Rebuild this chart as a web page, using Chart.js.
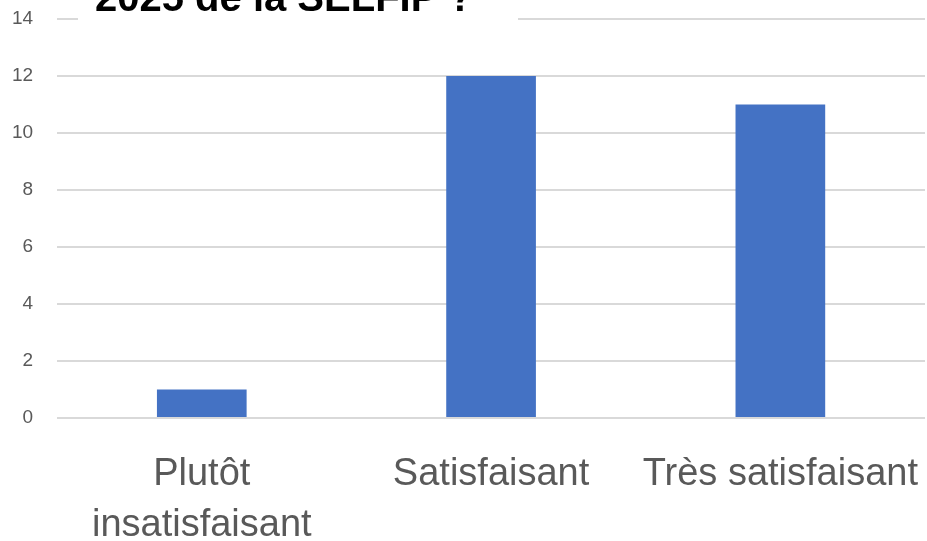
<!DOCTYPE html>
<html>
<head>
<meta charset="utf-8">
<script src="https://cdn.jsdelivr.net/npm/chart.js@4/dist/chart.umd.min.js"></script>
<style>
  html, body { margin:0; padding:0; background:#fff; }
  #wrap { width:927px; height:541px; position:relative; }
</style>
</head>
<body>
<div id="wrap"><canvas id="chart" width="927" height="541"></canvas></div>
<script>
var categories = [["Plutôt", "insatisfaisant"], "Satisfaisant", "Très satisfaisant"];
var counts = [1, 12, 11];
var yTicks = [0, 2, 4, 6, 8, 10, 12, 14];
var titleText = "2025 de la SELFIP ?";

var labelFont = "'Liberation Sans Narrow', 'Liberation Sans', Arial, sans-serif";

// title cut by the top edge, drawn over the top gridline
var cutTitle = {
    id: 'cutTitle',
    afterDraw: function(chart){
        var ctx = chart.ctx;
        ctx.save();
        ctx.fillStyle = "#fff";
        ctx.fillRect(78, 0, 440, 30);
        ctx.font = "bold 40px 'Liberation Sans', Arial, sans-serif";
        ctx.fillStyle = "#000";
        ctx.textBaseline = "alphabetic";
        ctx.fillText(titleText, 95, 11);
        ctx.restore();
    }
};

new Chart(document.getElementById("chart"), {
    type: 'bar',
    data: {
        labels: categories,
        datasets: [{
            data: counts,
            backgroundColor: "#4472c4",
            barPercentage: 0.31,
            categoryPercentage: 1
        }]
    },
    options: {
        responsive: false,
        animation: false,
        layout: { padding: { top: 19, right: 2, left: -12, bottom: 0 } },
        plugins: { legend: { display: false }, tooltip: { enabled: false } },
        scales: {
            x: {
                afterFit: function(axis){
                    axis.height = 123;
                    axis.paddingLeft = 0;
                    axis.paddingRight = 0;
                },
                grid: { display: false, drawTicks: false },
                border: { display: false },
                ticks: {
                    color: "#595959",
                    font: { family: labelFont, size: 38, lineHeight: 1.34 },
                    padding: 31,
                    maxRotation: 0,
                    autoSkip: false
                }
            },
            y: {
                min: 0,
                max: 14,
                afterBuildTicks: function(axis){
                    axis.ticks = yTicks.map(function(v){ return { value: v }; });
                },
                afterFit: function(axis){
                    axis.paddingTop = 0;
                    axis.paddingBottom = 0;
                },
                grid: { color: "#d9d9d9", lineWidth: 2, drawTicks: false },
                border: { display: false },
                ticks: {
                    color: "#595959",
                    font: { family: labelFont, size: 19 },
                    padding: 24
                }
            }
        }
    },
    plugins: [cutTitle]
});
</script>
</body>
</html>
